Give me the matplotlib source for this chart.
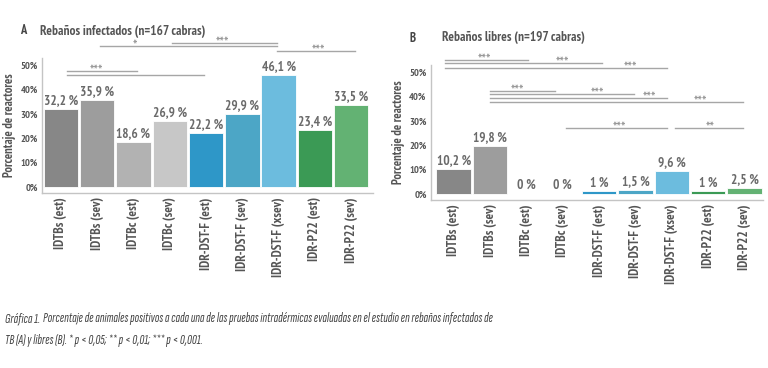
import matplotlib

matplotlib.use("Agg")
import matplotlib.pyplot as plt
from matplotlib import font_manager
import numpy as np


LABELS = [
    "IDTBs (est)", "IDTBs (sev)", "IDTBc (est)", "IDTBc (sev)",
    "IDR-DST-F (est)", "IDR-DST-F (sev)", "IDR-DST-F (xsev)",
    "IDR-P22 (est)", "IDR-P22 (sev)",
]
VALUES_A = [32.2, 35.9, 18.6, 26.9, 22.2, 29.9, 46.1, 23.4, 33.5]
VALUES_B = [10.2, 19.8, 0, 0, 1, 1.5, 9.6, 1, 2.5]
TEXT_A = ["32,2 %", "35,9 %", "18,6 %", "26,9 %", "22,2 %", "29,9 %", "46,1 %", "23,4 %", "33,5 %"]
TEXT_B = ["10,2 %", "19,8 %", "0 %", "0 %", "1 %", "1,5 %", "9,6 %", "1 %", "2,5 %"]
COLORS = ["#878787", "#9d9d9d", "#b2b2b2", "#c7c7c7", "#2e97c8",
          "#4ca6c6", "#6cbcde", "#3b9a55", "#63b273"]

# significance brackets: (x start, x end, y line, star text, x of text)
SIG_A = [
    (1.07, 5.95, 57.8, "*", 2.05),
    (3.06, 5.95, 59.0, "***", 4.45),
    (5.95, 8.10, 55.7, "***", 7.10),
    (0.17, 2.09, 47.5, "***", 0.98),
    (0.17, 3.94, 45.9, None, None),
]
SIG_B = [
    (-0.25, 2.04, 55.0, "***", 0.85),
    (-0.25, 4.08, 53.7, "***", 3.0),
    (-0.25, 5.87, 51.7, "***", 4.87),
    (0.99, 2.80, 42.1, "***", 1.76),
    (0.99, 4.96, 40.9, "***", 3.95),
    (0.99, 5.87, 39.3, "***", 5.37),
    (0.99, 7.96, 37.6, "***", 6.78),
    (3.09, 5.87, 26.9, "***", 4.56),
    (6.10, 7.96, 26.9, "**", 7.05),
]

CAPTION_BOLD = "Gráfica 1."
CAPTION_1 = ("Porcentaje de animales positivos a cada una de las pruebas intradérmicas "
             "evaluadas en el estudio en rebaños infectados de")
CAPTION_2 = "TB (A) y libres (B). * p < 0,05; ** p < 0,01; *** p < 0,001."

fonts = font_manager.fontManager.ttflist


def pick(cands, style="normal"):
    for c in cands:
        if any(f.name == c and f.style == style for f in fonts):
            return c
    return None


FONT = pick(["PT Sans Narrow", "Fira Sans Condensed", "Roboto Condensed",
             "Liberation Sans Narrow", "Archivo Narrow"]) or "DejaVu Sans"
CAP_FONT = pick(["Sofia Sans Extra Condensed", "Fira Sans Extra Condensed",
                 "Sofia Sans Condensed", "Barlow Condensed", "Roboto Condensed",
                 "Asap Condensed", "Fira Sans Condensed", "Archivo Narrow"],
                "italic") or FONT
plt.rcParams["font.family"] = [FONT, "DejaVu Sans"]

TXT = "#555555"
VAL = "#6a6a6a"
LINE = "#a6a6a6"
STAR = "#8f8f8f"


def draw_panel(ax, values, texts, sigs, xlim):
    x = np.arange(len(values))
    ax.bar(x, values, width=0.95, color=COLORS, edgecolor="white", linewidth=0.6)
    for xi, v, t in zip(x, values, texts):
        ax.text(xi, v + 0.8, t, ha="center", va="bottom", fontsize=9.5,
                fontweight="bold", color=VAL)
    for x0, x1, y, s, xt in sigs:
        ax.plot([x0, x1], [y, y], color=LINE, linewidth=1.0, clip_on=False)
        if s:
            ax.text(xt, y - 1.6, s, ha="center", va="baseline", fontsize=11,
                    color=STAR, clip_on=False)
    ax.set_xlim(*xlim)
    ax.set_ylim(-2.5, 53)
    ax.set_yticks([0, 10, 20, 30, 40, 50])
    ax.set_yticklabels([f"{t}%" for t in [0, 10, 20, 30, 40, 50]],
                       fontsize=7.5, fontweight="bold", color=TXT)
    ax.set_xticks(x)
    ax.set_xticklabels(LABELS, rotation=90, fontsize=9.5, fontweight="bold",
                       color=TXT, va="top")
    ax.tick_params(length=0, pad=3)
    ax.set_ylabel("Porcentaje de reactores", fontsize=9, fontweight="bold",
                  color=TXT, labelpad=3)
    for side in ["top", "right"]:
        ax.spines[side].set_visible(False)
    for side in ["left", "bottom"]:
        ax.spines[side].set_color("#c4c4c4")
        ax.spines[side].set_linewidth(1.0)


fig = plt.figure(figsize=(7.68, 3.68), dpi=100)
ax_a = fig.add_axes([0.0547, 0.4755, 0.431, 0.367])
ax_b = fig.add_axes([0.561, 0.4565, 0.432, 0.367])

draw_panel(ax_a, VALUES_A, TEXT_A, SIG_A, (-0.52, 8.6))
draw_panel(ax_b, VALUES_B, TEXT_B, SIG_B, (-0.63, 8.5))

fig.text(20 / 768, 1 - 31 / 368, "A", fontsize=9, fontweight="bold", color="#444444", va="center")
fig.text(40 / 768, 1 - 31 / 368, "Rebaños infectados (n=167 cabras)", fontsize=9.5,
         fontweight="bold", color="#555555", va="center")
fig.text(410 / 768, 1 - 38 / 368, "B", fontsize=9, fontweight="bold", color="#444444", va="center")
fig.text(442 / 768, 1 - 38 / 368, "Rebaños libres (n=197 cabras)", fontsize=9.5,
         fontweight="bold", color="#555555", va="center")

# caption: fit first line near the reference width, but keep it readable
cap_kw = dict(style="italic", color="#444444", va="baseline", family=[CAP_FONT, "DejaVu Sans"])
size = 10.5
cap_b = fig.text(5 / 768, 1 - 322 / 368, CAPTION_BOLD, fontsize=size, fontweight="bold", **cap_kw)
cap_1 = fig.text(0, 1 - 322 / 368, CAPTION_1, fontsize=size, fontweight="medium", **cap_kw)
fig.canvas.draw()
r = fig.canvas.get_renderer()
total = cap_b.get_window_extent(r).width + 3 + cap_1.get_window_extent(r).width
size = max(8.5, size * min(1.0, 485 / total))
cap_b.set_fontsize(size)
cap_1.set_fontsize(size)
fig.canvas.draw()
x1 = cap_b.get_window_extent(r).x1 + 3
cap_1.set_x(x1 / 768)
fig.text(5 / 768, 1 - 344 / 368, CAPTION_2, fontsize=size, fontweight="medium", **cap_kw)

fig.savefig("out.png", dpi=100, facecolor="white")
